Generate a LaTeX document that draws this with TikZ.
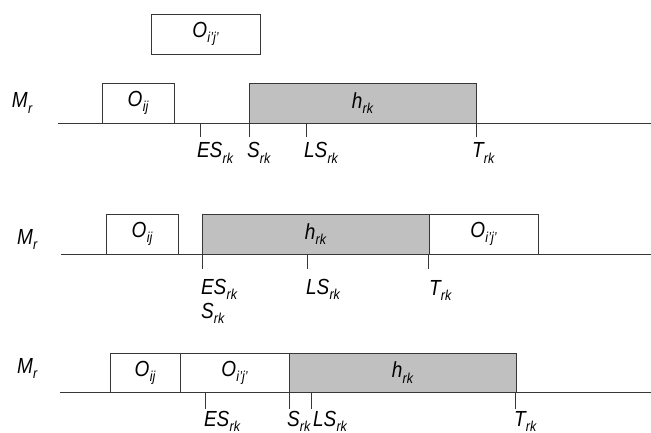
\documentclass[tikz,border=0pt]{standalone}
\usepackage{fontspec}
\setmainfont{Liberation Sans}
\usepackage{graphicx}
\definecolor{boxgray}{RGB}{192,192,192}
\definecolor{linec}{RGB}{55,55,55}
\newcommand\lab[2]{\scalebox{1}[1.15]{\itshape #1\kern0.3pt\raisebox{-0.45ex}{\fontsize{12.5}{12.5}\selectfont #2}}}
\begin{document}
\begin{tikzpicture}[x=1pt,y=-1pt,
  box/.style={draw=linec, line width=0.9pt, inner sep=0pt, outer sep=0pt, anchor=south west, minimum height=40pt, font=\fontsize{19}{21}\selectfont},
  wbox/.style={box, fill=white},
  gbox/.style={box, fill=boxgray},
  tickline/.style={draw=linec, line width=0.9pt},
  axisline/.style={draw=linec, line width=0.9pt},
  lbl/.style={anchor=base west, inner sep=0pt, outer sep=0pt, font=\fontsize{19}{21}\selectfont}]
\useasboundingbox (0,0) rectangle (651,433);

% ---------- panel 1 ----------
\coordinate (a1s) at (58,123);
\coordinate (a1e) at (651,123);
\draw[axisline] (a1s) -- (a1e);
\node[wbox, minimum width=109pt] (p1oo) at (151,54) {\lab{O}{i'j'}};
\node[wbox, minimum width=72pt] (p1o) at (102,123) {\lab{O}{ij}};
\node[gbox, minimum width=227pt] (p1h) at (249,123) {\lab{h}{rk}};
\node[lbl] (p1m) at (12,108) {\lab{M}{r}};
\coordinate (t1es) at (200,123);
\coordinate (t1s) at (249,123);
\coordinate (t1ls) at (306,123);
\coordinate (t1t) at (476,123);
\draw[tickline] (t1es) -- ++(0,14);
\draw[tickline] (t1s) -- ++(0,14);
\draw[tickline] (t1ls) -- ++(0,14);
\draw[tickline] (t1t) -- ++(0,14);
\node[lbl] (l1es) at (197,158) {\lab{ES}{rk}};
\node[lbl] (l1s) at (247,158) {\lab{S}{rk}};
\node[lbl] (l1ls) at (304,158) {\lab{LS}{rk}};
\node[lbl] (l1t) at (472,158) {\lab{T}{rk}};

% ---------- panel 2 ----------
\coordinate (a2s) at (61,254);
\coordinate (a2e) at (651,254);
\draw[axisline] (a2s) -- (a2e);
\node[wbox, minimum width=72pt] (p2o) at (106,254) {\lab{O}{ij}};
\node[gbox, minimum width=227pt] (p2h) at (202,254) {\lab{h}{rk}};
\node[wbox, minimum width=109pt] (p2oo) at (429,254) {\lab{O}{i'j'}};
\node[lbl] (p2m) at (17,244) {\lab{M}{r}};
\coordinate (t2es) at (202,254);
\coordinate (t2ls) at (307,254);
\coordinate (t2t) at (428,254);
\draw[tickline] (t2es) -- ++(0,15);
\draw[tickline] (t2ls) -- ++(0,15);
\draw[tickline] (t2t) -- ++(0,15);
\node[lbl] (l2es) at (201,294) {\lab{ES}{rk}};
\node[lbl] (l2s) at (201,318) {\lab{S}{rk}};
\node[lbl] (l2ls) at (306,294) {\lab{LS}{rk}};
\node[lbl] (l2t) at (429,295) {\lab{T}{rk}};

% ---------- panel 3 ----------
\coordinate (a3s) at (60,392);
\coordinate (a3e) at (651,392);
\draw[axisline] (a3s) -- (a3e);
\node[wbox, minimum width=70pt, minimum height=39pt] (p3o) at (110,392) {\lab{O}{ij}};
\node[wbox, minimum width=109pt, minimum height=39pt] (p3oo) at (180,392) {\lab{O}{i'j'}};
\node[gbox, minimum width=227pt, minimum height=39pt] (p3h) at (289,392) {\lab{h}{rk}};
\node[lbl] (p3m) at (17,373) {\lab{M}{r}};
\coordinate (t3es) at (205,392);
\coordinate (t3s) at (289,392);
\coordinate (t3ls) at (311,392);
\coordinate (t3t) at (515,392);
\draw[tickline] (t3es) -- ++(0,17);
\draw[tickline] (t3s) -- ++(0,17);
\draw[tickline] (t3ls) -- ++(0,17);
\draw[tickline] (t3t) -- ++(0,17);
\node[lbl] (l3es) at (204,426) {\lab{ES}{rk}};
\node[lbl] (l3s) at (287,426) {\lab{S}{rk}};
\node[lbl] (l3ls) at (313,426) {\lab{LS}{rk}};
\node[lbl] (l3t) at (514,426) {\lab{T}{rk}};
\end{tikzpicture}
\end{document}
